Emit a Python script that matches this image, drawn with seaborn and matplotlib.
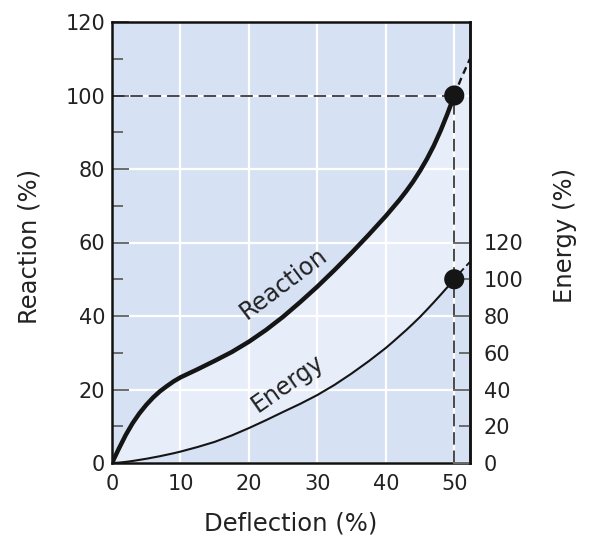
import numpy as np
import matplotlib
matplotlib.use("Agg")
import matplotlib.pyplot as plt
import seaborn as sns

# ---------------- data ----------------
deflection = [0, 1, 2, 3, 4, 5, 6, 7, 8, 9, 10, 12.5, 15, 17.5, 20, 22.5, 25,
              27.5, 30, 32.5, 35, 37.5, 40, 41, 42, 43, 44, 45, 46, 47, 48,
              49, 50]
reaction = [0, 3.9, 7.6, 10.8, 13.5, 15.8, 17.8, 19.5, 20.9, 22.2, 23.3, 25.5,
            27.8, 30.2, 33.0, 36.2, 39.8, 43.8, 48, 52.5, 57.2, 62.1, 67.2,
            69.4, 71.6, 74.0, 76.6, 79.5, 82.7, 86.3, 90.4, 95, 100]
energy = [0, 0.2, 0.6, 1.1, 1.7, 2.3, 3.0, 3.7, 4.5, 5.3, 6.2, 8.7, 11.5, 15,
          19, 23.3, 27.8, 32.2, 37, 42.5, 48.7, 55.4, 62.6, 65.8, 69.1, 72.4,
          75.9, 79.5, 83.4, 87.4, 91.5, 95.7, 100]

deflection_ext = [50, 51, 52.3]
reaction_ext = [100, 104.6, 110]
energy_ext = [100, 104.3, 109.5]

rated_deflection = [50]
rated_reaction = [100]
rated_energy = [100]

x_major = [0, 10, 20, 30, 40, 50]
x_minor = [5, 15, 25, 35, 45]
reaction_major = [0, 20, 40, 60, 80, 100, 120]
reaction_minor = [10, 30, 50, 70, 90, 110]
energy_major = [0, 40, 80, 120]
energy_minor = [20, 60, 100]

BG = "#d6e1f4"
FILL = "#e8eef9"
INK = "#151515"
TICK = "#6b6b6b"

sns.set_style("white")
plt.rcParams["font.family"] = ["DejaVu Sans"]

fig = plt.figure(figsize=(5.93, 5.46), dpi=100)
ax = fig.add_axes([112 / 593, 1 - 463 / 546, 358 / 593, 441 / 546])
ax2 = ax.twinx()

ax.set_xlim(0, 52.3)
ax.set_ylim(0, 120)
ax2.set_ylim(0, 240)
scale = ax.get_ylim()[1] / ax2.get_ylim()[1]

ax.set_facecolor(BG)
ax.set_axisbelow(True)
ax.grid(True, color="white", linewidth=1.6)

# fill between curves (energy expressed in reaction-axis units)
fx = deflection + deflection_ext[1:]
fr = reaction + reaction_ext[1:]
fe = [e * scale for e in (energy + energy_ext[1:])]
ax.fill_between(fx, fe, fr, color=FILL, zorder=0.3, linewidth=0)

# reference dashed lines
ax.plot([0, rated_deflection[0]], [rated_reaction[0]] * 2, color="#2a2a2a",
        lw=1.2, ls=(0, (7.5, 3.5)), zorder=2)
ax.plot([rated_deflection[0]] * 2, [0, rated_reaction[0]], color="#2a2a2a",
        lw=1.2, ls=(0, (7.5, 3.5)), zorder=2)

# curves
line_kw = dict(sort=False, estimator=None, solid_joinstyle="round",
               solid_capstyle="round")
sns.lineplot(x=deflection, y=reaction, ax=ax, color=INK, linewidth=3.2,
             zorder=4, **line_kw)
sns.lineplot(x=deflection_ext, y=reaction_ext, ax=ax, color=INK, linewidth=1.7,
             linestyle=(0, (3, 2)), sort=False, estimator=None, zorder=4)
sns.lineplot(x=deflection, y=energy, ax=ax2, color=INK, linewidth=1.5,
             zorder=4, **line_kw)
sns.lineplot(x=deflection_ext, y=energy_ext, ax=ax2, color=INK, linewidth=1.3,
             linestyle=(0, (3, 2)), sort=False, estimator=None, zorder=4)

sns.scatterplot(x=rated_deflection, y=rated_reaction, ax=ax, color=INK,
                s=210, edgecolor="none", zorder=5, clip_on=False)
sns.scatterplot(x=rated_deflection, y=rated_energy, ax=ax2, color=INK,
                s=210, edgecolor="none", zorder=5, clip_on=False)

# curve labels
ax.text(25.1, 48.8, "Reaction", rotation=37, fontsize=17, color="#222222",
        ha="center", va="center", rotation_mode="anchor", zorder=6)
ax.text(25.6, 21.6, "Energy", rotation=35, fontsize=17, color="#222222",
        ha="center", va="center", rotation_mode="anchor", zorder=6)

# ticks
ax.set_xticks(x_major)
ax.set_xticks(x_minor, minor=True)
ax.set_yticks(reaction_major)
ax.set_yticks(reaction_minor, minor=True)
ax.tick_params(axis="both", which="both", direction="in", color=TICK,
               labelcolor="#222222", labelsize=15, top=False, right=False)
ax.tick_params(axis="both", which="major", length=12.5, width=1.4)
ax.tick_params(axis="both", which="minor", length=8, width=1.4)
ax.tick_params(axis="x", which="both", pad=8)
ax.tick_params(axis="y", which="both", pad=5)

ax2.set_yticks(energy_major, labels=[str(v) for v in energy_major])
ax2.set_yticks(energy_minor, labels=[str(v) for v in energy_minor], minor=True)
ax2.tick_params(axis="y", which="both", direction="in", color=TICK,
                labelcolor="#222222", labelsize=15, pad=10)
ax2.tick_params(axis="y", which="major", length=12, width=1.4)
ax2.tick_params(axis="y", which="minor", length=8, width=1.4)

for s in ax.spines.values():
    s.set_color("#111111")
    s.set_linewidth(1.8)
    s.set_visible(True)
for name, s in ax2.spines.items():
    s.set_visible(name == "right")
    s.set_color("#111111")
    s.set_linewidth(1.8)

ax.set_xlabel("Deflection (%)", fontsize=17.5, color="#222222")
ax.xaxis.set_label_coords(0.5, -0.11)
ax.set_ylabel("Reaction (%)", fontsize=17.5, color="#222222")
ax.yaxis.set_label_coords(-0.196, 0.49)
ax2.set_ylabel("Energy (%)", fontsize=17.5, color="#222222")
ax2.yaxis.set_label_coords(1.232, 0.517)

fig.savefig("out.png", dpi=100, facecolor="white")
